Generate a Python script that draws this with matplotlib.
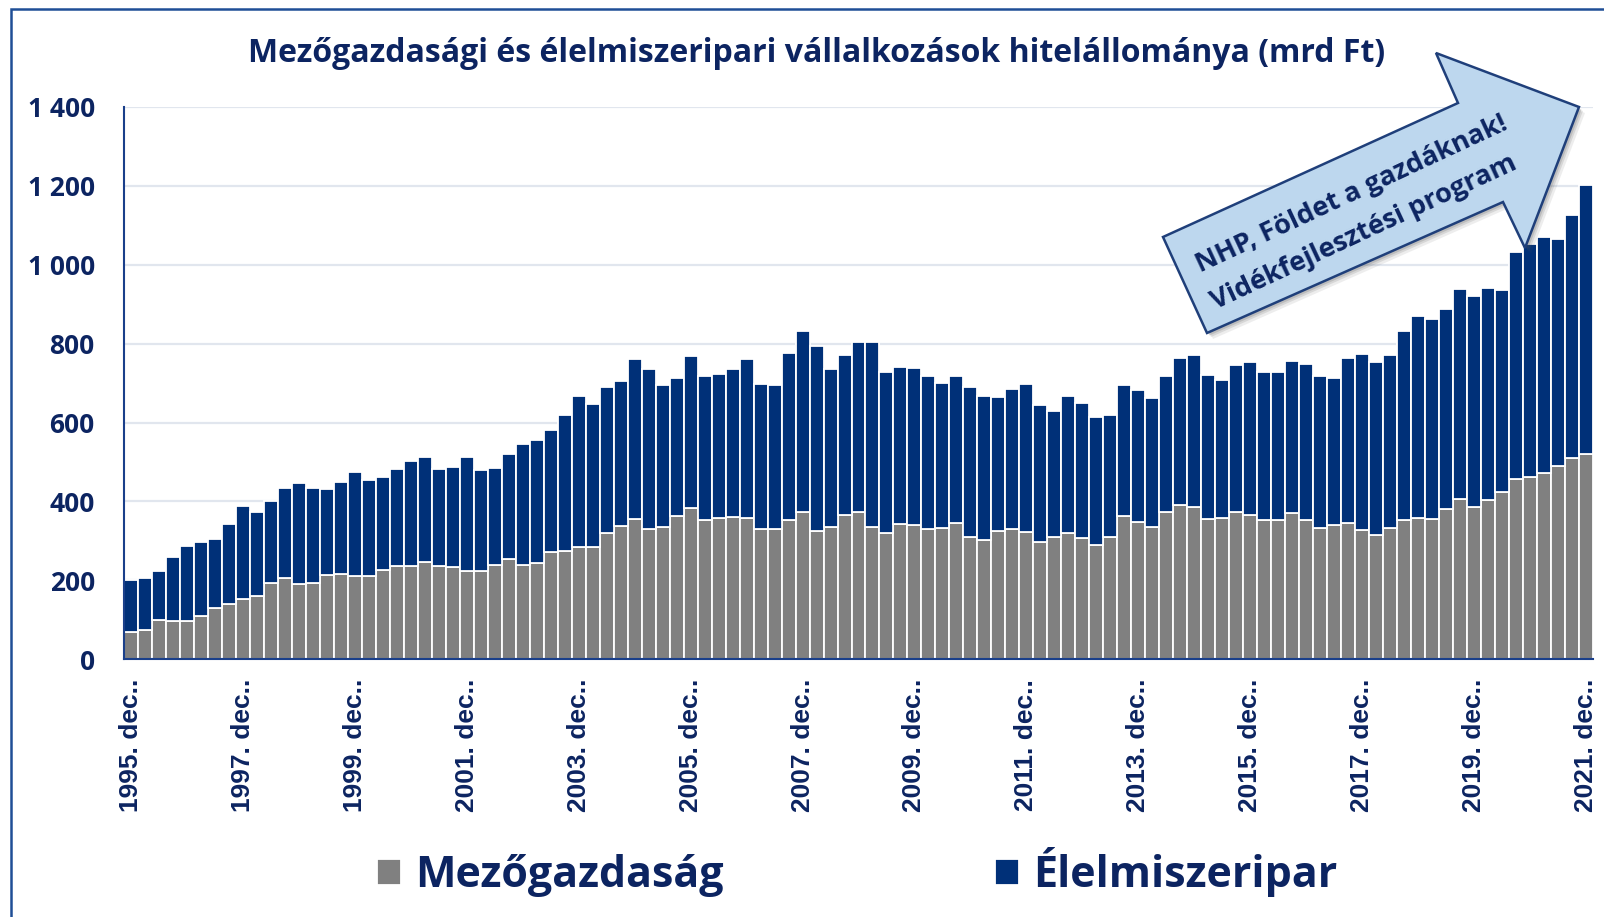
import matplotlib.pyplot as plt
from matplotlib.patches import Polygon, Rectangle
import numpy as np

# --- adatok (mrd Ft), negyedéves, 1995. dec. - 2021. dec. ---
mezogazdasag = [70, 75, 99, 97, 97, 110, 130, 139, 153, 160,
                193, 206, 192, 193, 214, 216, 212, 212, 226, 236,
                237, 247, 236, 234, 225, 225, 240, 254, 239, 243,
                271, 274, 284, 284, 321, 338, 356, 331, 336, 363,
                383, 353, 358, 361, 358, 331, 331, 354, 372, 326,
                336, 366, 373, 336, 319, 344, 340, 331, 332, 345,
                311, 302, 325, 330, 323, 297, 310, 321, 308, 289,
                311, 362, 349, 336, 373, 390, 385, 356, 358, 373,
                366, 352, 354, 370, 352, 333, 340, 345, 328, 316,
                333, 352, 359, 356, 382, 406, 386, 403, 424, 457,
                463, 471, 490, 509, 519]
elelmiszeripar = [132, 130, 126, 162, 191, 187, 176, 203, 235, 213,
                  208, 228, 254, 241, 218, 233, 262, 243, 237, 246,
                  266, 266, 245, 253, 288, 255, 246, 266, 306, 312,
                  311, 346, 384, 364, 368, 367, 405, 405, 358, 349,
                  386, 365, 365, 375, 404, 366, 365, 422, 459, 468,
                  399, 405, 430, 467, 409, 396, 398, 386, 368, 373,
                  380, 364, 340, 354, 375, 347, 320, 347, 342, 326,
                  308, 332, 333, 326, 345, 373, 385, 364, 350, 374,
                  387, 377, 375, 385, 396, 385, 373, 419, 445, 438,
                  438, 479, 512, 506, 506, 533, 534, 538, 512, 576,
                  590, 598, 574, 617, 684]
tick_cimkek = ["1995. dec..", "1997. dec..", "1999. dec..", "2001. dec..",
               "2003. dec..", "2005. dec..", "2007. dec..", "2009. dec..",
               "2011. dec..", "2013. dec..", "2015. dec..", "2017. dec..",
               "2019. dec..", "2021. dec.."]
y_tickek = [0, 200, 400, 600, 800, 1000, 1200, 1400]
y_cimkek = ["0", "200", "400", "600", "800", "1 000", "1 200", "1 400"]

NAVY = '#0c2461'
KEK = '#003078'
SZURKE = '#808080'
W, H = 1604, 917

def px(x, y):
    # pixel -> figure fraction
    return (x / W, 1 - y / H)

fig = plt.figure(figsize=(W / 100, H / 100), dpi=100)
ax = fig.add_axes([124 / W, 1 - 659.3 / H, (1593 - 124) / W, (659.3 - 106.8) / H])

x = np.arange(len(mezogazdasag))
ax.bar(x, mezogazdasag, width=1.0, color=SZURKE, edgecolor='white', lw=1.3,
       label='Mezőgazdaság', zorder=2)
ax.bar(x, elelmiszeripar, bottom=mezogazdasag, width=1.0, color=KEK,
       edgecolor='white', lw=1.3, label='Élelmiszeripar', zorder=2)

ax.set_xlim(-0.5, len(x) - 0.5)
ax.set_ylim(0, 1400)
ax.set_yticks(y_tickek)
ax.set_yticklabels(y_cimkek, fontfamily='Open Sans', fontweight='bold',
                   fontsize=19, color=NAVY)
ax.set_xticks(x[::8])
ax.set_xticklabels(tick_cimkek, rotation=90, fontfamily='Liberation Sans',
                   fontweight='bold', fontsize=19, color=NAVY, va='top')
ax.tick_params(axis='y', length=0, pad=21)
ax.tick_params(axis='x', length=0, pad=14)
ax.grid(axis='y', color='#e1e6ee', lw=1.6, zorder=0)
ax.set_axisbelow(True)
for s in ['top', 'right']:
    ax.spines[s].set_visible(False)
for s in ['left', 'bottom']:
    ax.spines[s].set_color('#1a3f8a')
    ax.spines[s].set_linewidth(1.5)

# cím
fig.text(*px(817, 53), 'Mezőgazdasági és élelmiszeripari vállalkozások hitelállománya (mrd Ft)',
         ha='center', va='center', fontfamily='Open Sans', fontweight='bold',
         fontsize=23, color=NAVY)

# jelmagyarázat
fig.legend(loc='center', bbox_to_anchor=px(857, 872), ncol=2, frameon=False,
           prop={'family': 'Open Sans', 'weight': 'bold', 'size': 31},
           labelcolor=NAVY, handlelength=0.56, handleheight=0.56,
           handletextpad=0.33, columnspacing=6.3)

# keret
fig.patches.append(Rectangle(px(11, 1000), 1700 / W, 991 / H, transform=fig.transFigure,
                             fill=False, ec='#1f4e96', lw=1.8))

# nyíl
nyil = [(1163, 237), (1458, 103), (1436, 53), (1579, 107),
        (1525, 248), (1503, 202), (1207, 333)]
for d, a in [(6, 0.10), (4, 0.15), (2.5, 0.2)]:
    fig.patches.append(Polygon([px(a1 + d, b1 + d) for a1, b1 in nyil], closed=True,
                               transform=fig.transFigure, fc='#555555', ec='none', alpha=a))
fig.patches.append(Polygon([px(a1, b1) for a1, b1 in nyil], closed=True,
                           transform=fig.transFigure, fc='#bdd7ee', ec='#1f3f7a', lw=1.8))
fig.text(*px(1352, 194), 'NHP, Földet a gazdáknak!', rotation=25, rotation_mode='anchor',
         ha='center', va='center', fontfamily='Open Sans', fontweight='bold',
         fontsize=19.5, color=NAVY)
fig.text(*px(1364, 233), 'Vidékfejlesztési program', rotation=25, rotation_mode='anchor',
         ha='center', va='center', fontfamily='Open Sans', fontweight='bold',
         fontsize=19.5, color=NAVY)

fig.savefig('out.png', dpi=100)
